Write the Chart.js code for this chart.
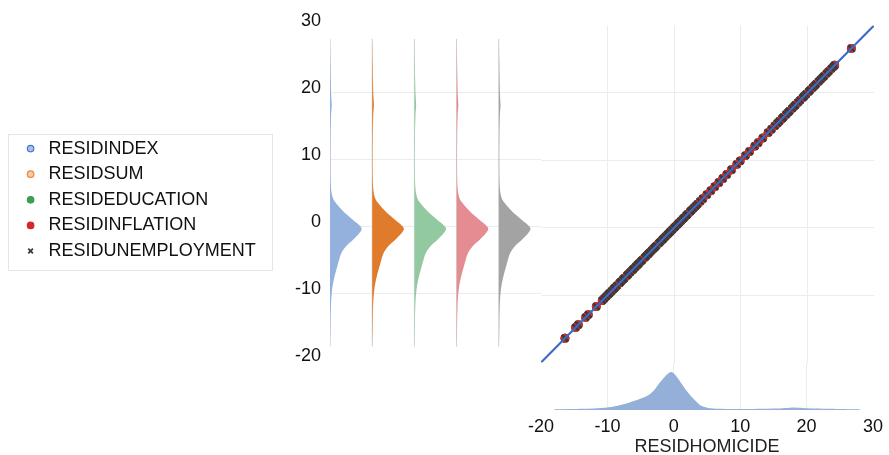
<!DOCTYPE html>
<html><head><meta charset="utf-8">
<script src="https://cdn.jsdelivr.net/npm/chart.js@4.4.1/dist/chart.umd.min.js"></script>
<style>
html,body{margin:0;padding:0;background:#fff;width:889px;height:455px;overflow:hidden;position:relative;}
canvas{position:absolute;}
#legendBox{position:absolute;left:8px;top:134px;width:263px;height:135px;border:1px solid #e6e6e6;}
</style></head><body>
<div id="legendBox"></div>
<canvas id="cLegend" width="256" height="150" style="left:14px;top:132px"></canvas>
<canvas id="cViolin" width="275" height="380" style="left:270px;top:0px"></canvas>
<canvas id="cScatter" width="359" height="380" style="left:530px;top:0px"></canvas>
<canvas id="cDensity" width="379" height="110" style="left:510px;top:360px"></canvas>
<script>
// ---------- data ----------
const seriesNames = ['RESIDINDEX', 'RESIDSUM', 'RESIDEDUCATION', 'RESIDINFLATION', 'RESIDUNEMPLOYMENT'];
const xAxisTitle = 'RESIDHOMICIDE';
const axisTicks = [-20, -10, 0, 10, 20, 30];

// residual values (RESIDHOMICIDE); every series coincides with it in the picture (all points on y = x)
const residHomicide = [
  -16.4, -14.8, -14.4, -13.3, -12.9, -11.7, -10.8, -10.5,
  -10.2, -9.9, -9.7, -9.4, -9.1, -8.9, -8.6, -8.2, -8.0, -7.7, -7.5, -7.1, -6.9, -6.6, -6.3, -6.1,
  -5.8, -5.5, -5.3, -5.0, -4.8, -4.4, -4.2, -3.9, -3.7, -3.4, -3.1, -2.9, -2.7, -2.3, -2.1, -1.8,
  -1.6, -1.3, -1.0, -0.8, -0.6, -0.3, 0.0, 0.2, 0.5, 0.7, 1.0, 1.3, 1.5, 1.8, 2.0, 2.4, 2.6, 2.9,
  3.2, 3.5, 3.9, 4.3,
  4.9, 5.5, 6.1, 6.7, 7.3, 7.9, 8.6, 9.4, 9.9, 10.7, 11.3, 12.1, 12.6, 13.3, 14.1, 14.6, 15.1,
  15.5, 15.8, 16.2, 16.4, 16.8, 17.1, 17.3, 17.7, 18.0, 18.2, 18.6, 18.9, 19.3, 19.5, 19.8, 20.2,
  20.4, 20.8, 21.1, 21.3, 21.7, 22.0, 22.3, 22.5, 22.9, 23.2, 23.6, 23.9, 24.1,
  26.6
];
const residIndex = residHomicide;
const residSum = residHomicide;
const residEducation = residHomicide;
const residInflation = residHomicide;
const residUnemployment = residHomicide;
const seriesValues = [residIndex, residSum, residEducation, residInflation, residUnemployment];

// kernel density of the residuals (relative, peak = 1)
const densityGrid = [-18,-17,-16,-15,-14,-13,-12,-11,-10,-9,-8,-7,-6,-5,-4,-3,-2,-1,-0.4,0,1,2,3,4,5,6,7,8,9,10,11,12,13,14,15,16,17,18,19,20,21,22,23,24,25,26,27,28];
const densityValues = [
  0.004,0.008,0.012,0.015,0.018,0.022,0.028,0.038,0.055,0.08,
  0.12,0.17,0.23,0.29,0.36,0.5,0.73,0.93,
  1.0,
  0.96,0.72,0.47,0.27,0.11,0.05,0.028,0.02,0.016,0.015,
  0.015,0.015,0.016,0.018,0.02,0.024,0.03,0.038,0.055,0.045,
  0.034,0.028,0.024,0.02,0.017,0.013,0.01,0.007,0.004
];

// ---------- styles ----------
const FONT = "'Liberation Sans', Arial, Helvetica, sans-serif";
Chart.defaults.font.family = FONT;
Chart.defaults.color = '#111';
const markerStyles = [
  {pointStyle: 'circle', border: '#4a76c9', fill: '#a9c1ea'},
  {pointStyle: 'circle', border: '#e8853a', fill: '#f6cba8'},
  {pointStyle: 'circle', border: '#3a9f4e', fill: '#3a9f4e'},
  {pointStyle: 'circle', border: '#d62728', fill: '#d62728'},
  {pointStyle: 'crossRot', border: '#3a3a3a', fill: '#3a3a3a'}
];
const violinColors = ['#94b0dc', '#e07b2c', '#93c9a1', '#e48c92', '#a3a3a3'];
const densityColor = '#94b0d8';
const gridColor = '#ececec';
const VIOLIN_WIDTH = 0.75;

const interiorGrid = (ctx) => (ctx.tick && (ctx.tick.value === axisTicks[0] || ctx.tick.value === axisTicks[axisTicks.length - 1])) ? 'rgba(0,0,0,0)' : gridColor;
const fixedTicks = (scale) => { scale.ticks = axisTicks.map(v => ({value: v})); };

// ---------- legend ----------
new Chart(document.getElementById('cLegend'), {
  type: 'scatter',
  data: {datasets: seriesNames.map((name, i) => ({
    label: name, data: [],
    pointStyle: markerStyles[i].pointStyle,
    backgroundColor: markerStyles[i].fill,
    borderColor: markerStyles[i].border,
    borderWidth: i === 4 ? 1.8 : 1.2
  }))},
  options: {
    responsive: false, animation: false,
    layout: {padding: 0},
    scales: {x: {display: false}, y: {display: false}},
    plugins: {
      tooltip: {enabled: false},
      legend: {
        position: 'left', align: 'start', maxWidth: 256,
        labels: {usePointStyle: true, boxWidth: 18, boxHeight: 4.6, padding: 7.6,
                 color: '#111', font: {size: 18, family: FONT}}
      }
    }
  }
});

// ---------- violins (half densities) ----------
const violinDatasets = [];
seriesNames.forEach((name, i) => {
  violinDatasets.push({
    label: name,
    data: densityGrid.map((v, k) => ({x: i + densityValues[k] * VIOLIN_WIDTH, y: v})),
    borderColor: violinColors[i], backgroundColor: violinColors[i],
    borderWidth: 0, pointRadius: 0, cubicInterpolationMode: 'monotone',
    fill: {value: i}, order: 1
  });
  violinDatasets.push({
    label: name + ' base',
    data: [{x: i, y: densityGrid[0]}, {x: i, y: densityGrid[densityGrid.length - 1]}],
    borderColor: '#d9d9d9', borderWidth: 1, pointRadius: 0, fill: false, order: 2
  });
});
new Chart(document.getElementById('cViolin'), {
  type: 'line',
  data: {datasets: violinDatasets},
  options: {
    responsive: false, animation: false, indexAxis: 'y',
    layout: {padding: {left: 0, right: 4, top: 25.5, bottom: 17.5}},
    scales: {
      x: {type: 'linear', min: 0, max: seriesNames.length, display: false},
      y: {
        type: 'linear', min: axisTicks[0], max: axisTicks[axisTicks.length - 1],
        afterBuildTicks: fixedTicks,
        afterFit: (s) => { s.width = 60; },
        border: {display: false},
        grid: {color: interiorGrid, drawTicks: false, lineWidth: 1},
        ticks: {padding: 9, labelOffset: -4, color: '#111', font: {size: 18}}
      }
    },
    plugins: {legend: {display: false}, tooltip: {enabled: false}}
  }
});

// ---------- scatter ----------
const scatterDatasets = seriesNames.map((name, i) => ({
  type: 'scatter',
  label: name,
  data: residHomicide.map((h, k) => ({x: h, y: seriesValues[i][k]})),
  pointStyle: markerStyles[i].pointStyle,
  pointRadius: i === 4 ? 4.7 : 3.9,
  backgroundColor: markerStyles[i].fill,
  borderColor: markerStyles[i].border,
  borderWidth: i === 4 ? 2.4 : 1.1,
  order: seriesNames.length - i
}));
scatterDatasets.push({
  type: 'line', label: 'fit',
  data: [{x: axisTicks[0], y: axisTicks[0]}, {x: axisTicks[axisTicks.length - 1], y: axisTicks[axisTicks.length - 1]}],
  borderColor: '#3d6cc4', borderWidth: 2.2, pointRadius: 0, fill: false, order: 0
});
const hiddenAxis = (horizontal) => ({
  type: 'linear', min: axisTicks[0], max: axisTicks[axisTicks.length - 1],
  afterBuildTicks: fixedTicks,
  afterFit: (s) => { if (horizontal) s.height = 0; else s.width = 0; },
  border: {display: false},
  grid: {color: interiorGrid, drawTicks: false, lineWidth: 1},
  ticks: {display: false}
});
new Chart(document.getElementById('cScatter'), {
  type: 'scatter',
  data: {datasets: scatterDatasets},
  options: {
    responsive: false, animation: false,
    layout: {padding: {left: 11, right: 15, top: 25.5, bottom: 17.5}},
    scales: {x: hiddenAxis(true), y: hiddenAxis(false)},
    plugins: {legend: {display: false}, tooltip: {enabled: false}}
  }
});

// ---------- marginal density of RESIDHOMICIDE ----------
new Chart(document.getElementById('cDensity'), {
  type: 'line',
  data: {datasets: [{
    label: xAxisTitle,
    data: densityGrid.map((v, k) => ({x: v, y: densityValues[k]})),
    borderColor: densityColor, backgroundColor: densityColor,
    borderWidth: 1.2, pointRadius: 0, cubicInterpolationMode: 'monotone', fill: 'origin'
  }]},
  options: {
    responsive: false, animation: false,
    layout: {padding: {left: 31, right: 15, top: 2.5, bottom: 12.3}},
    scales: {
      x: {
        type: 'linear', min: axisTicks[0], max: axisTicks[axisTicks.length - 1],
        afterBuildTicks: fixedTicks,
        border: {display: false},
        grid: {color: interiorGrid, drawTicks: false, lineWidth: 1},
        ticks: {padding: 6, color: '#111', font: {size: 18}, maxRotation: 0},
        title: {display: true, text: xAxisTitle, color: '#222', font: {size: 18}, padding: {top: 6, bottom: 0}}
      },
      y: {type: 'linear', min: 0, max: 1.27, display: false}
    },
    plugins: {legend: {display: false}, tooltip: {enabled: false}}
  }
});
</script>
</body></html>
